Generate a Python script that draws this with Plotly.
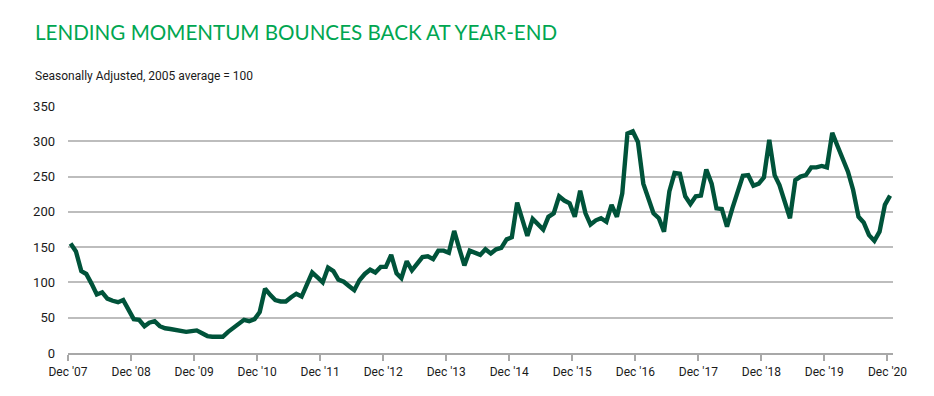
import pandas as pd
import plotly.graph_objects as go

# Monthly index values, Dec 2007 .. Dec 2020 (seasonally adjusted, 2005 avg = 100)
values = [
    155, 144, 116, 112, 98, 83, 86, 77, 74, 72, 75, 60,          # Dec07 - Nov08
    48, 47, 38, 43, 45, 38, 35, 34, 33, 32, 30, 31,              # Dec08 - Nov09
    32, 28, 24, 23, 23, 23, 30, 36, 41, 47, 45, 48,              # Dec09 - Nov10
    58, 91, 82, 75, 73, 73, 79, 84, 80, 99, 114, 107,            # Dec10 - Nov11
    100, 121, 116, 104, 101, 95, 89, 103, 112, 118, 114, 122,    # Dec11 - Nov12
    122, 139, 113, 106, 130, 117, 127, 136, 137, 133, 145, 145,  # Dec12 - Nov13
    142, 173, 147, 124, 145, 142, 139, 147, 141, 147, 149, 161,  # Dec13 - Nov14
    164, 213, 186, 166, 190, 182, 175, 193, 198, 222, 216, 212,  # Dec14 - Nov15
    193, 230, 198, 182, 188, 191, 186, 210, 193, 226, 311, 314,  # Dec15 - Nov16
    299, 240, 219, 198, 191, 172, 229, 255, 254, 222, 211, 222,  # Dec16 - Nov17
    223, 260, 240, 205, 204, 179, 205, 230, 251, 252, 237, 240,  # Dec17 - Nov18
    249, 302, 252, 238, 215, 191, 245, 250, 252, 263, 263, 265,  # Dec18 - Nov19
    263, 312, 293, 276, 257, 231, 193, 185, 167, 159, 172, 210,  # Dec19 - Nov20
    223,                                                         # Dec20
]
months = pd.date_range("2007-12-16", periods=len(values), freq=pd.DateOffset(months=1))

tick_dates = [f"{y}-12-01" for y in range(2007, 2021)]
tick_labels = ["Dec '07", "Dec '08", "Dec '09", "Dec '10", "Dec '11", "Dec '12", "Dec '13",
               "Dec '14", "Dec '15", "Dec '16", "Dec '17", "Dec '18", "Dec '19", "Dec '20"]
y_ticks = [0, 50, 100, 150, 200, 250, 300, 350]

title_text = "LENDING MOMENTUM BOUNCES BACK AT YEAR-END"
subtitle_text = "Seasonally Adjusted, 2005 average = 100"

NARROW = "Roboto, sans-serif"
GRID = "#BDBDBD"

fig = go.Figure()
fig.add_trace(go.Scatter(
    x=months, y=values, mode="lines",
    line=dict(color="#00533A", width=4.4, shape="linear"),
    hoverinfo="skip", showlegend=False,
))

fig.update_layout(
    width=926, height=388,
    margin=dict(l=60, r=41, t=98, b=43),
    paper_bgcolor="white", plot_bgcolor="white",
    xaxis=dict(
        range=["2007-12-01", "2021-01-02"],
        tickmode="array", tickvals=tick_dates, ticktext=tick_labels,
        showgrid=False, zeroline=False,
        showline=True, linecolor="#A8A8A8", linewidth=1.5,
        ticks="outside", ticklen=6, tickwidth=1.5, tickcolor="#A8A8A8",
        tickfont=dict(family=NARROW, size=12, color="#1a1a1a"),
        ticklabelstandoff=1,
    ),
    yaxis=dict(
        range=[0, 350], tickmode="array", tickvals=y_ticks,
        showgrid=True, gridcolor=GRID, gridwidth=1.5,
        zeroline=False, showline=False, ticks="",
        tickfont=dict(family=NARROW, size=13, color="#1a1a1a"),
        ticklabelstandoff=12,
    ),
    annotations=[
        dict(text=title_text, xref="paper", yref="paper",
             x=-0.0428, y=1.2977, xanchor="left", yanchor="middle",
             showarrow=False,
             font=dict(family="Lato, Noto Sans, sans-serif", size=20.6, color="#00A651")),
        dict(text=subtitle_text, xref="paper", yref="paper",
             x=-0.0428, y=1.1214, xanchor="left", yanchor="middle",
             showarrow=False,
             font=dict(family=NARROW, size=12, color="#1a1a1a")),
    ],
)

fig.write_html("out.html")
